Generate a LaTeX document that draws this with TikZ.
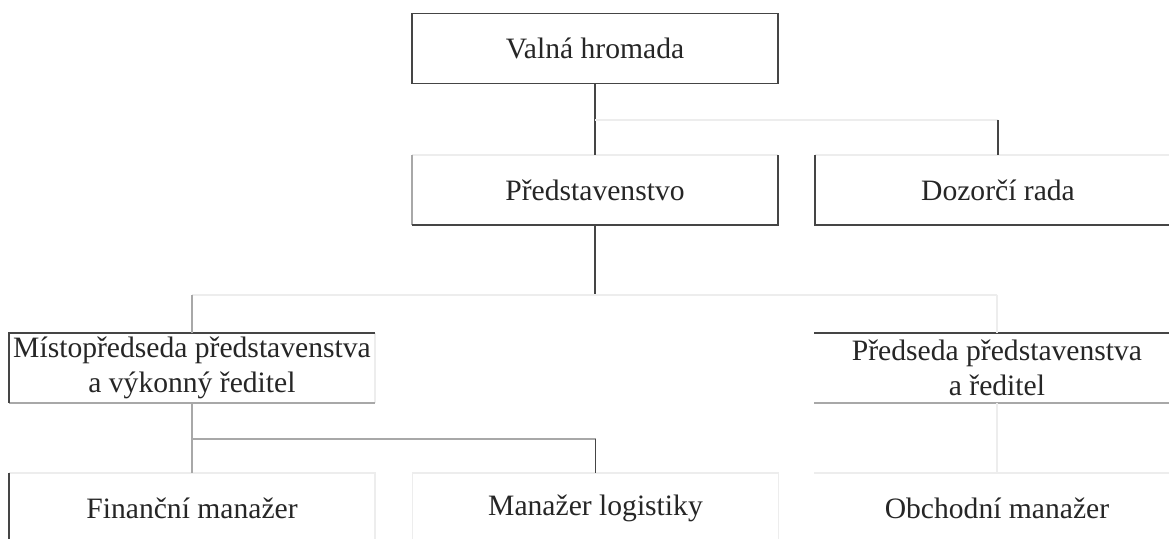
\documentclass[tikz,border=0pt]{standalone}
\usepackage{fontspec}
\setmainfont{Liberation Serif}
\definecolor{darkln}{HTML}{454545}
\definecolor{midln}{HTML}{A8A8A8}
\definecolor{faintln}{HTML}{EDEDED}
\begin{document}
\begin{tikzpicture}[x=0.5pt,y=-0.5pt,
  box/.style={minimum width=183pt,minimum height=35pt,inner sep=0pt,outer sep=0pt,align=center,
    font=\fontsize{14.8}{17.6}\selectfont,text=black!85},
  dk/.style={draw=darkln,line width=0.8pt},
  md/.style={draw=midln,line width=0.8pt},
  ft/.style={draw=faintln,line width=0.8pt}]
\useasboundingbox (0,0) rectangle (1169,539);
\clip (0,0) rectangle (1169,539);
\fill[white] (0,0) rectangle (1169,539);
% nodes
\node[box] (v) at (595,48.5) {Valná hromada};
\node[box] (p) at (595,190) {Představenstvo};
\node[box] (d) at (998,190) {Dozorčí rada};
\node[box] (m) at (192,368) {Místopředseda představenstva\\a výkonný ředitel};
\node[box] (q) at (997,368) {Předseda představenstva\\a ředitel};
\node[box] (f) at (192,508) {Finanční manažer};
\node[box] (l) at (595.5,508) {Manažer logistiky};
\node[box] (o) at (997,508) {Obchodní manažer};
% box borders
\draw[dk] (v.north west) rectangle (v.south east);
\draw[ft] (p.north west) -- (p.north east);
\draw[md] (p.north west) -- (p.south west);
\draw[dk] (p.south west) -- (p.south east) -- (p.north east);
\draw[ft] (d.north west) -- (d.north east);
\draw[dk] (d.north west) -- (d.south west) -- (d.south east);
\draw[ft] (m.north east) -- (m.south east);
\draw[md] (m.south west) -- (m.south east);
\draw[dk] (m.south west) -- (m.north west) -- (m.north east);
\draw[dk] (q.north west) -- (q.north east);
\draw[md] (q.south west) -- (q.south east);
\draw[ft] (f.north west) -- (f.north east) -- (f.south east);
\draw[dk] (f.north west) -- (f.south west);
\draw[ft] (l.south west) -- (l.north west) -- (l.north east) -- (l.south east);
\draw[ft] (o.north west) -- (o.north east);
% junctions
\coordinate (j1) at (998,120);
\coordinate (j2) at (595,295);
\coordinate (j2l) at (192,295);
\coordinate (j2r) at (997,295);
\coordinate (j3) at (192,439);
\coordinate (j3r) at (595.5,439);
% connectors
\draw[dk] (v.south) -- (p.north);
\draw[ft] (v.south |- j1) -- (j1);
\draw[dk] (j1) -- (d.north);
\draw[dk] (p.south) -- (j2);
\draw[ft] (j2l) -- (j2r);
\draw[md] (j2l) -- (m.north);
\draw[ft] (j2r) -- (q.north);
\draw[md] (m.south) -- (f.north);
\draw[md] (j3) -- (j3r);
\draw[dk] (j3r) -- (l.north);
\draw[ft] (q.south) -- (o.north);
\end{tikzpicture}
\end{document}
